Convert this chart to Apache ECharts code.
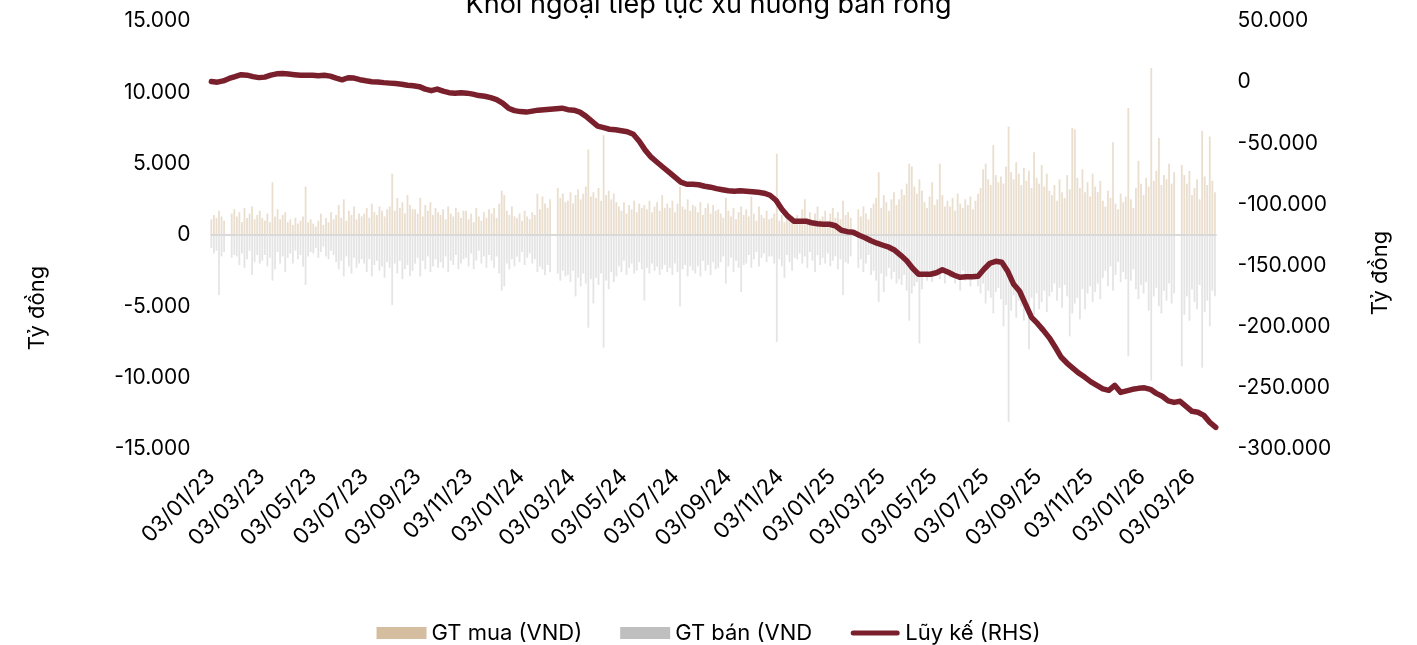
<!DOCTYPE html>
<html>
<head>
<meta charset="utf-8">
<script src="https://cdn.jsdelivr.net/npm/echarts@6/dist/echarts.min.js"></script>
<style>
  html, body { margin: 0; padding: 0; background: #fff; }
  #chart { width: 1417px; height: 645px; }
</style>
</head>
<body>
<div id="chart"></div>
<script>
// Khoi ngoai - GT mua / GT ban (moi 3 ngay) va luy ke (tuan), don vi ty dong
var DAY = 86400000;
var startDay = Date.UTC(2023, 0, 3);
var barStepDays = 3;
var lineStepDays = 7;

var tickDates = ['2023-01-03', '2023-03-03', '2023-05-03', '2023-07-03', '2023-09-03', '2023-11-03',
  '2024-01-03', '2024-03-03', '2024-05-03', '2024-07-03', '2024-09-03', '2024-11-03',
  '2025-01-03', '2025-03-03', '2025-05-03', '2025-07-03', '2025-09-03', '2025-11-03',
  '2026-01-03', '2026-03-03'];

var leftTicks = [-15000, 15000, 5000];
var rightTicks = [-300000, 50000, 50000];

var buyValues = [
  1100, 1400, 1200, 1700, 1300, 1000, null, null, 1500, 1800,
  1300, 1600, 900, 1900, 1200, 1500, 2000, 1100, 1400, 1700,
  1200, 1000, 1500, 900, 3700, 1300, 1800, 1100, 1400, 1600,
  900, 1100, 700, 1200, 800, 1000, 1300, 3400, 900, 1100,
  800, 600, 1000, 1500, 700, 1200, 900, 1600, 1100, 1400,
  2100, 1200, 2500, 1000, 1700, 1400, 2000, 1100, 1500, 1300,
  1500, 1900, 1200, 2200, 1600, 1400, 2000, 1700, 1300, 1800,
  2000, 4300, 1700, 2600, 1900, 2300, 1500, 2800, 2100, 1800,
  1800, 1500, 2600, 1300, 2100, 1700, 2300, 1400, 1900, 1600,
  1400, 1800, 1100, 2000, 1500, 1300, 1900, 1600, 1200, 1700,
  1700, 1100, 1500, 900, 1900, 1300, 1000, 1600, 1200, 1800,
  1500, 1900, 1200, 2200, 3100, 2800, 1700, 1400, 2000, 1300,
  1200, 1500, 1000, 1700, 1300, 1100, 1600, 1400, 2900, 1800,
  2700, 2200, 1900, 2500, null, null, 3300, 2600, 2900, 2300,
  2400, 3000, 2200, 2800, 3200, 2500, 2900, 3400, 6000, 2700,
  3000, 2600, 3300, 2400, 7000, 2800, 3100, 2500, 2900, 2300,
  2000, 1700, 2300, 1500, 2100, 1800, 2400, 1600, 2200, 1900,
  2100, 1800, 2400, 1600, 2000, 2300, 1700, 2800, 1900, 2200,
  1900, 2400, 1600, 2200, 3400, 2000, 1800, 2500, 1700, 2100,
  2000, 1600, 2300, 1400, 1900, 2200, 1500, 2100, 1700, 1800,
  1500, 1200, 2600, 1700, 1300, 1900, 1100, 1600, 2000, 1400,
  1800, 1300, 2700, 1500, 1000, 2000, 1400, 1200, 1700, 1100,
  1200, 1500, 5700, 1000, 1400, 900, 1700, 1100, 1300, 800,
  1400, 1000, 1800, 2500, 1200, 1600, 900, 1500, 2000, 1100,
  1300, 1700, 1000, 1500, 1900, 1200, 1600, 1100, 2400, 1400,
  1600, 1200, null, null, 1800, 1300, 2000, 1500, 1100, 1900,
  2200, 2600, 4400, 1900, 2800, 2300, 1700, 2500, 3000, 2100,
  2500, 3200, 2800, 3600, 5000, 4800, 3400, 2900, 3900, 3100,
  2300, 1900, 2700, 3700, 2100, 2500, 5000, 2800, 2000, 2400,
  2000, 2600, 1700, 2900, 2200, 1900, 2500, 2100, 2700, 1800,
  2400, 2900, 3300, 4600, 5000, 3900, 3500, 6300, 4200, 3700,
  4100, 3600, 4800, 7600, 4400, 3900, 5100, 4300, 3500, 4700,
  3800, 4500, 3300, 5800, 4000, 3600, 4900, 3400, 4300, 3100,
  2800, 3500, 2400, 3900, 3000, 2600, 4200, 3200, 7500, 7400,
  4000, 3300, 4600, 3000, 3700, 2700, 4300, 3400, 3000, 3800,
  2400, 2000, 3100, 2600, 6500, 2200, 1800, 2900, 2300, 2700,
  8900, 2500, 1900, 3300, 5200, 3600, 2800, 4000, 3400, 11700,
  3800, 4500, 6800, 3500, 4200, 3900, 5000, 3600, 4400, null,
  null, 4900, 4200, 3600, 4500, 2800, 3300, 3900, 2500, 7300,
  4100, 3500, 6900, 3800, 3000
];

var sellValues = [
  -900, -1300, -1100, -4200, -1500, -1200, null, null, -1600, -1400,
  -1500, -2100, -1300, -2300, -1700, -1100, -2800, -1900, -1400, -2000,
  -1800, -1400, -2200, -1600, -3200, -2400, -1200, -2000, -1500, -2600,
  -1600, -1300, -2000, -1100, -1700, -1400, -2200, -3500, -1500, -1200,
  -1300, -900, -1600, -1200, -800, -1500, -1700, -1100, -1400, -1900,
  -2400, -1800, -2900, -1500, -2200, -2700, -1600, -2300, -2000, -1700,
  -2000, -2600, -1700, -2900, -2100, -1800, -2500, -2200, -3000, -1900,
  -2300, -4900, -2000, -2700, -1800, -3100, -2400, -2100, -2900, -2500,
  -2000, -1600, -2900, -1800, -2400, -1500, -2600, -2200, -1700, -2300,
  -1900, -2300, -1500, -2600, -1800, -2100, -1400, -2400, -2000, -1700,
  -1600, -2200, -1300, -2400, -1800, -1100, -2000, -1500, -2300, -1400,
  -1800, -2300, -1500, -2700, -3900, -3600, -2000, -2400, -1700, -2200,
  -1500, -1900, -1200, -2100, -1600, -1300, -2000, -1700, -2600, -2200,
  -2400, -2800, -2100, -2600, null, null, -2700, -3200, -2500, -2900,
  -2800, -3300, -2500, -4300, -3000, -3600, -2700, -3400, -6500, -3100,
  -4800, -3000, -3500, -2700, -7900, -3200, -3800, -2600, -3300, -2900,
  -2200, -2600, -1800, -2800, -2300, -2000, -2700, -2500, -1900, -2400,
  -4600, -2300, -2700, -2000, -2500, -2200, -2800, -2400, -2100, -2600,
  -2300, -2800, -2000, -2600, -5000, -2400, -2100, -2900, -2200, -2500,
  -2700, -2200, -2900, -1800, -2500, -2100, -2800, -1900, -2400, -2300,
  -1900, -1500, -3400, -2200, -1600, -2600, -1800, -2300, -4000, -2100,
  -2000, -1400, -2300, -1700, -1200, -2200, -1600, -1300, -1900, -1500,
  -1500, -2000, -7500, -1700, -2200, -3000, -1400, -1900, -2500, -1600,
  -1700, -1300, -2000, -1500, -2300, -1200, -1800, -2600, -1400, -2100,
  -1600, -2000, -1300, -2200, -1800, -1500, -2400, -1700, -4200, -1900,
  -2000, -1500, null, null, -2300, -1700, -2600, -2000, -1400, -2800,
  -2500, -3200, -4700, -2700, -4000, -2900, -2300, -3100, -2600, -3400,
  -3100, -3500, -2800, -3900, -6000, -4100, -3600, -3300, -7600, -3800,
  -2800, -3200, -2500, -3300, -2900, -2400, -3100, -2700, -3400, -2600,
  -3000, -2600, -3400, -2800, -3900, -2500, -3200, -2900, -3600, -2700,
  -3100, -3600, -4100, -3400, -4800, -3900, -4400, -5500, -4000, -3700,
  -4500, -6400, -4900, -13100, -5300, -4200, -5800, -4600, -5000, -6000,
  -4800, -8000, -4400, -5600, -4100, -5200, -4700, -3900, -5400, -4300,
  -4000, -3400, -4600, -3700, -5100, -3500, -4300, -7100, -5500, -4800,
  -4400, -5900, -3800, -5200, -4100, -3600, -4700, -4000, -3400, -4500,
  -3000, -2500, -3600, -2200, -3900, -2800, -1900, -3300, -2600, -3100,
  -8500, -3200, -2400, -3800, -4500, -3500, -4100, -3300, -5300, -10200,
  -4300, -3700, -5000, -5500, -3900, -4600, -3400, -4800, -4100, null,
  null, -9200, -5600, -4300, -6000, -3800, -4700, -5200, -3500, -9300,
  -5400, -4600, -6400, -3900, -4300
];

var cumValues = [
  500, 0, 1000, 3000, 4600, 6100, 5700, 4500, 3700, 4100,
  5700, 6800, 7100, 6600, 6100, 5700, 5700, 5700, 5300, 5700,
  4900, 3300, 1900, 3600, 3300, 2000, 1100, 400, 200, -400,
  -800, -1200, -1700, -2500, -2900, -3700, -5700, -7000, -5700, -7400,
  -8600, -9000, -8600, -9000, -9800, -11000, -11500, -12700, -14300, -17200,
  -21300, -23300, -24100, -24500, -23700, -22900, -22500, -22100, -21700, -21300,
  -22500, -22900, -24500, -27800, -31900, -36000, -37200, -38500, -38900, -39700,
  -40500, -42600, -48300, -55600, -61400, -65500, -69600, -73600, -77700, -81800,
  -83500, -83500, -83900, -85100, -85900, -87100, -88000, -88800, -89200, -88800,
  -89200, -89600, -90000, -90800, -92500, -96600, -103900, -109600, -113700, -113700,
  -113700, -115000, -115800, -116200, -116200, -117400, -121100, -122300, -122700, -125200,
  -127200, -129700, -131700, -133400, -135000, -137500, -141600, -146100, -152200, -157100,
  -157100, -157100, -155900, -153400, -155500, -157900, -159600, -159200, -159200, -158700,
  -153000, -148100, -146500, -147300, -154700, -165300, -171000, -181700, -192300, -197300,
  -203000, -209100, -216800, -225000, -229900, -234000, -238100, -241400, -245100, -247900,
  -250800, -252000, -247900, -253700, -252500, -251200, -250400, -250000, -251200, -254500,
  -256900, -260600, -261900, -261000, -265100, -269200, -270000, -272500, -278200, -282300
];

var FONT = 'Inter';
var LINE_COLOR = '#7A1F2C';
// thick rounded line icon, padded to the legend box so it is not stretched
var lineIcon = 'path://M0,0 M50,12 M3,3.5 L47,3.5 A2.5,2.5 0 0 1 47,8.5 L3,8.5 A2.5,2.5 0 0 1 3,3.5 Z';

function dotNum(v) {
  var s = String(Math.abs(v)).replace(/\B(?=(\d{3})+(?!\d))/g, '.');
  return (v < 0 ? '-' : '') + s;
}
function pad(n) { return n < 10 ? '0' + n : '' + n; }
function fmtDate(v) {
  var d = new Date(v);
  return pad(d.getUTCDate()) + '/' + pad(d.getUTCMonth() + 1) + '/' + String(d.getUTCFullYear()).slice(2);
}

var buyData = buyValues.map(function (v, i) { return [startDay + i * barStepDays * DAY, v]; });
var sellData = sellValues.map(function (v, i) { return [startDay + i * barStepDays * DAY, v]; });
var cumData = cumValues.map(function (v, i) { return [startDay + i * lineStepDays * DAY, v]; });

var myChart = echarts.init(document.getElementById('chart'));
var option = {
  animation: false,
  textStyle: { fontFamily: FONT },
  title: {
    text: 'Khối ngoại tiếp tục xu hướng bán ròng',
    left: 'center',
    top: -14,
    textStyle: { fontFamily: FONT, fontSize: 27, fontWeight: 'normal', color: '#000' }
  },
  grid: {
    left: 210.5, right: 200.4, top: 21, bottom: 196,
    containLabel: false, outerBoundsMode: 'none'
  },
  legend: {
    top: 617,
    left: 'center',
    itemWidth: 50,
    itemHeight: 12,
    itemGap: 38,
    textStyle: { fontFamily: FONT, fontSize: 22, color: '#000' },
    data: [
      { name: 'GT mua (VND)', icon: 'rect', itemStyle: { color: '#D5BD9F', opacity: 1 } },
      { name: 'GT bán (VND', icon: 'rect', itemStyle: { color: '#BFBFBF', opacity: 1 } },
      { name: 'Lũy kế (RHS)', icon: lineIcon, itemStyle: { color: LINE_COLOR }, lineStyle: { width: 0 } }
    ]
  },
  xAxis: {
    type: 'value',
    min: startDay - DAY,
    max: startDay + 1184 * DAY,
    axisLine: { show: false },
    axisTick: { show: false },
    splitLine: { show: false },
    axisLabel: {
      customValues: tickDates.map(function (d) { return Date.parse(d); }),
      rotate: 45,
      margin: 24,
      fontSize: 22,
      fontFamily: FONT,
      color: '#000',
      formatter: fmtDate
    }
  },
  yAxis: [
    {
      type: 'value',
      min: leftTicks[0], max: leftTicks[1], interval: leftTicks[2],
      splitLine: { show: false },
      axisLine: { show: false },
      axisTick: { show: false },
      axisLabel: { margin: 20, fontSize: 21, fontFamily: FONT, color: '#000', formatter: dotNum }
    },
    {
      type: 'value',
      min: rightTicks[0], max: rightTicks[1], interval: rightTicks[2],
      splitLine: { show: false },
      axisLine: { show: false },
      axisTick: { show: false },
      axisLabel: { margin: 21, fontSize: 21, fontFamily: FONT, color: '#000', formatter: dotNum }
    }
  ],
  graphic: [
    { type: 'text', x: 37, y: 308, rotation: Math.PI / 2,
      style: { text: 'Tỷ đồng', fontFamily: FONT, fontSize: 22, fill: '#000', align: 'center', verticalAlign: 'middle' } },
    { type: 'text', x: 1380, y: 273, rotation: Math.PI / 2,
      style: { text: 'Tỷ đồng', fontFamily: FONT, fontSize: 22, fill: '#000', align: 'center', verticalAlign: 'middle' } }
  ],
  series: [
    {
      name: 'GT mua (VND)',
      type: 'bar',
      stack: 'gt',
      barWidth: 1.8,
      data: buyData,
      itemStyle: { color: '#D5BD9F', opacity: 0.5 },
      markLine: {
        silent: true,
        symbol: 'none',
        label: { show: false },
        lineStyle: { color: '#D9D9D9', width: 2, type: 'solid' },
        data: [{ yAxis: 0 }]
      }
    },
    {
      name: 'GT bán (VND',
      type: 'bar',
      stack: 'gt',
      barWidth: 1.8,
      data: sellData,
      itemStyle: { color: '#C4C4C4', opacity: 0.45 }
    },
    {
      name: 'Lũy kế (RHS)',
      type: 'line',
      yAxisIndex: 1,
      symbol: 'none',
      data: cumData,
      z: 5,
      lineStyle: { color: LINE_COLOR, width: 5.5, cap: 'round', join: 'round' },
      itemStyle: { color: LINE_COLOR }
    }
  ]
};
myChart.setOption(option);
</script>
</body>
</html>
